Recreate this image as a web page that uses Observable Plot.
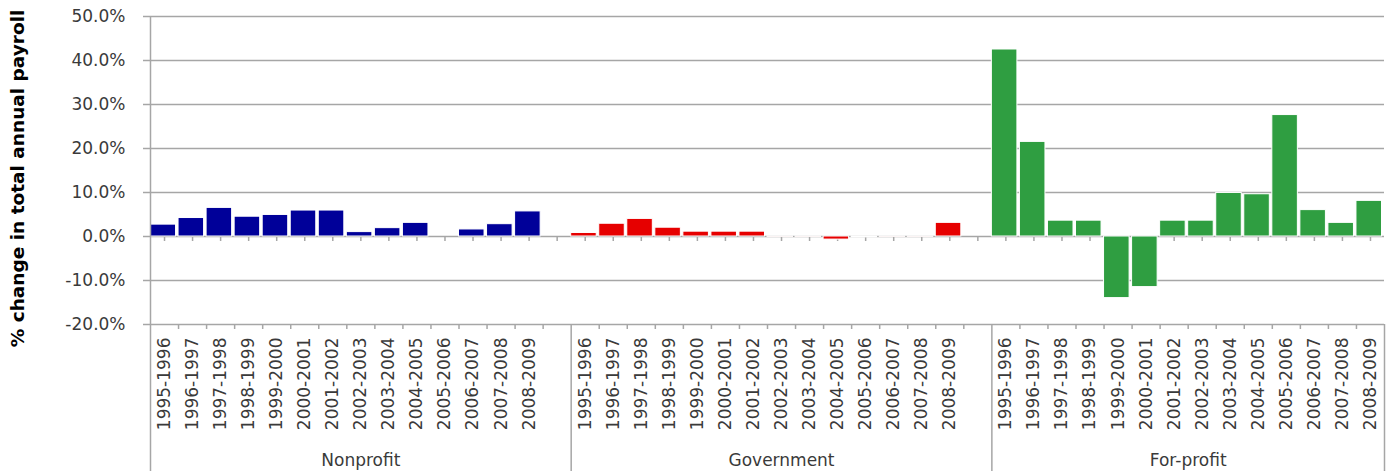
<!DOCTYPE html>
<html><head><meta charset="utf-8">
<script src="https://cdn.jsdelivr.net/npm/d3@7"></script>
<script src="https://cdn.jsdelivr.net/npm/@observablehq/plot@0.6"></script>
<style>body{margin:0;background:#fff} svg{display:block}</style>
</head><body><div id="chart"></div>
<script>
const groups = ["Nonprofit", "Government", "For-profit"];
const groupSlots = [15, 15, 14];
const periods = ["1995-1996","1996-1997","1997-1998","1998-1999","1999-2000","2000-2001","2001-2002",
  "2002-2003","2003-2004","2004-2005","2005-2006","2006-2007","2007-2008","2008-2009"];
const nonprofit  = [0.027, 0.042, 0.065, 0.045, 0.049, 0.059, 0.059, 0.010, 0.019, 0.031, 0.000, 0.016, 0.028, 0.057];
const government = [0.008, 0.029, 0.040, 0.020, 0.011, 0.011, 0.011, -0.001, -0.001, -0.007, -0.002, -0.001, -0.001, 0.031];
const forprofit  = [0.425, 0.215, 0.036, 0.036, -0.140, -0.115, 0.036, 0.036, 0.099, 0.096, 0.276, 0.060, 0.031, 0.081];
const colors = ["#000099", "#e60000", "#2f9e41"];
const yTicks = [-0.2, -0.1, 0, 0.1, 0.2, 0.3, 0.4, 0.5];
const yTitle = "% change in total annual payroll";

const values = [nonprofit, government, forprofit];
const bounds = d3.cumsum([0, ...groupSlots]); // group boundaries in slot units
const total = bounds[bounds.length - 1];
const data = [];
groups.forEach((g, gi) => {
  values[gi].forEach((v, j) => data.push({group: g, period: periods[j], value: v, i: bounds[gi] + j}));
});
const slotCenters = d3.range(total).map(i => i + 0.5);
const innerEdges = d3.range(1, total).filter(i => !bounds.includes(i));
const groupCenters = groups.map((g, gi) => ({group: g, x: bounds[gi] + groupSlots[gi] / 2}));

const grid = "#a6a6a6";
const ink = "#3a3a3a";
const vtick = {draw(ctx) { ctx.moveTo(0, 0); ctx.lineTo(0, 4.5); }};

const chart = Plot.plot({
  width: 1392, height: 471,
  marginLeft: 150, marginRight: 8, marginTop: 16, marginBottom: 147,
  x: {domain: [0, total], axis: null},
  y: {domain: [yTicks[0], yTicks[yTicks.length - 1]], axis: null},
  color: {domain: groups, range: colors},
  style: {fontFamily: "DejaVu Sans", fontSize: "17px", color: ink, background: "#fff"},
  marks: [
    Plot.ruleY(yTicks.filter(t => t !== 0), {stroke: grid, strokeWidth: 1.5}),
    Plot.ruleY([0], {stroke: grid, strokeWidth: 1.5, ariaLabel: "zeroline"}),
    Plot.dot(slotCenters, {x: d => d, y: 0, symbol: vtick, stroke: grid, strokeWidth: 1.5, fill: "none"}),
    Plot.rectY(data, {x1: "i", x2: d => d.i + 1, y: "value", fill: "group", stroke: "white", strokeWidth: 1, insetLeft: 0, insetRight: 2.5, ariaLabel: "bars"}),
    // bottom category axis
    Plot.dot(innerEdges, {x: d => d, y: yTicks[0], symbol: vtick, stroke: grid, strokeWidth: 1.5, fill: "none"}),
    Plot.ruleX(bounds.slice(1), {x: d => d, y1: yTicks[0], y2: yTicks[0], insetBottom: -147, stroke: grid, strokeWidth: 1.5}),
    Plot.ruleX([0], {stroke: grid, strokeWidth: 1.5, insetBottom: -147}),
    Plot.axisY(yTicks, {tickSize: 7, tickPadding: 18, tickFormat: d => (d * 100).toFixed(1) + "%", stroke: grid, strokeWidth: 1.5, fill: ink, fontSize: 17, label: null}),
    Plot.text(data, {x: d => d.i + 0.5, text: "period", frameAnchor: "bottom", rotate: -90, textAnchor: "end", lineAnchor: "middle", dy: 13, fill: ink, fontSize: 17}),
    Plot.text(groupCenters, {x: "x", text: "group", frameAnchor: "bottom", textAnchor: "middle", lineAnchor: "middle", dy: 136, fill: ink, fontSize: 17}),
    Plot.text([yTitle], {text: d => d, frameAnchor: "left", rotate: -90, textAnchor: "middle", lineAnchor: "middle", dx: -132, dy: 8, fontWeight: "bold", fontSize: 18.5, fill: "#000"})
  ]
});
document.getElementById("chart").appendChild(chart);
const bars = chart.querySelector('[aria-label="bars"]');
if (bars) bars.style.filter = "drop-shadow(2px 3px 2px rgba(0,0,0,0.25))";
const zl = chart.querySelector('[aria-label="zeroline"]');
if (zl) zl.style.filter = "drop-shadow(1px 3px 2px rgba(0,0,0,0.3))";
</script>
</body></html>
